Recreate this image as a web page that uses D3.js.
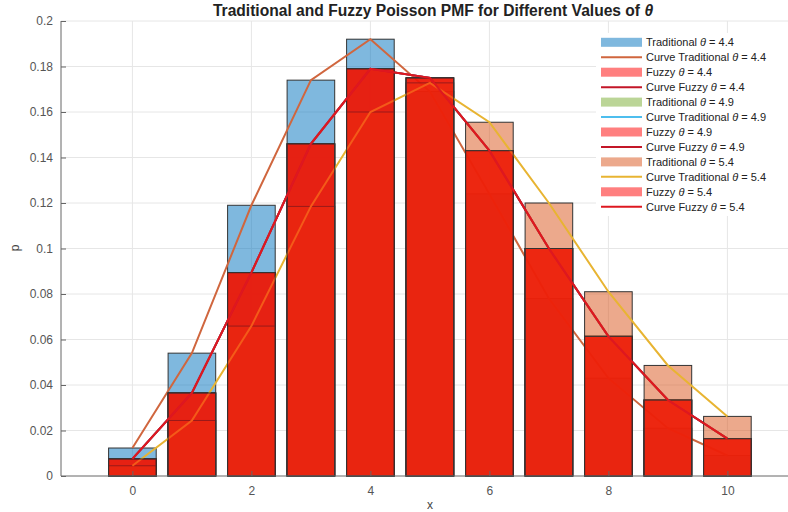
<!DOCTYPE html>
<html>
<head>
<meta charset="utf-8">
<script src="https://cdn.jsdelivr.net/npm/d3@7"></script>
<style>
	body { margin: 0; background: #fff; }
	text { font-family: "Liberation Sans", Arial, Helvetica, sans-serif; }
</style>
</head>
<body>
<div id="chart"></div>
<script>
// values
const xs = [0, 1, 2, 3, 4, 5, 6, 7, 8, 9, 10];
const trad44  = [0.0123, 0.054, 0.119, 0.174, 0.192, 0.169, 0.124, 0.078, 0.043, 0.021, 0.009];
const fuzzy44 = [0.0075, 0.0365, 0.0894, 0.146, 0.179, 0.175, 0.143, 0.100, 0.0614, 0.0334, 0.0164];
const trad49  = [0.0075, 0.0365, 0.0894, 0.146, 0.179, 0.175, 0.143, 0.100, 0.0614, 0.0334, 0.0164];
const fuzzy49 = [0.0075, 0.0365, 0.0894, 0.146, 0.179, 0.175, 0.143, 0.100, 0.0614, 0.0334, 0.0164];
const trad54  = [0.0045, 0.0244, 0.0659, 0.1185, 0.160, 0.1728, 0.1555, 0.120, 0.081, 0.0486, 0.0262];
const fuzzy54 = [0.0075, 0.0365, 0.0894, 0.146, 0.179, 0.175, 0.143, 0.100, 0.0614, 0.0334, 0.0164];
const xTicks = [0, 2, 4, 6, 8, 10];
const yTicks = [0, 0.02, 0.04, 0.06, 0.08, 0.1, 0.12, 0.14, 0.16, 0.18, 0.2];

// drawn in the same order as the legend
var layers = [
	{type: "bar",  name: "Traditional", theta: "4.4", data: trad44,  color: "rgb(0,114,189)"},
	{type: "line", name: "Curve Traditional", theta: "4.4", data: trad44, color: "rgb(208,102,62)"},
	{type: "bar",  name: "Fuzzy", theta: "4.4", data: fuzzy44, color: "rgb(255,0,0)"},
	{type: "line", name: "Curve Fuzzy", theta: "4.4", data: fuzzy44, color: "rgb(195,22,40)"},
	{type: "bar",  name: "Traditional", theta: "4.9", data: trad49,  color: "rgb(119,172,48)"},
	{type: "line", name: "Curve Traditional", theta: "4.9", data: trad49, color: "rgb(77,190,238)"},
	{type: "bar",  name: "Fuzzy", theta: "4.9", data: fuzzy49, color: "rgb(255,0,0)"},
	{type: "line", name: "Curve Fuzzy", theta: "4.9", data: fuzzy49, color: "rgb(195,22,40)"},
	{type: "bar",  name: "Traditional", theta: "5.4", data: trad54,  color: "rgb(217,83,25)"},
	{type: "line", name: "Curve Traditional", theta: "5.4", data: trad54, color: "rgb(232,180,50)"},
	{type: "bar",  name: "Fuzzy", theta: "5.4", data: fuzzy54, color: "rgb(255,0,0)"},
	{type: "line", name: "Curve Fuzzy", theta: "5.4", data: fuzzy54, color: "rgb(222,24,32)"}
];

var width = 788, height = 512;
var plotLeft = 61, plotTop = 21, plotBottom = 476;

const svg = d3.select('#chart').append('svg')
	.attr('width', width)
	.attr('height', height);

var x = d3.scaleLinear().domain([-1.2, 11.2]).range([plotLeft, plotLeft + 12.4 * 59.5]);
var y = d3.scaleLinear().domain([0, 0.2]).range([plotBottom, plotTop]);
var barW = x(0.8) - x(0);

// grid
svg.append('g').selectAll('line')
	.data(yTicks.slice(1))
	.enter().append('line')
	.attr('x1', plotLeft).attr('x2', width)
	.attr('y1', d => y(d)).attr('y2', d => y(d))
	.attr('stroke', '#e6e6e6');
svg.append('g').selectAll('line')
	.data(xTicks)
	.enter().append('line')
	.attr('x1', d => x(d)).attr('x2', d => x(d))
	.attr('y1', plotTop).attr('y2', plotBottom)
	.attr('stroke', '#e6e6e6');

var line = d3.line()
	.x((d, i) => x(xs[i]))
	.y(d => y(d));

var plot = svg.append('g');
layers.forEach(function(l) {
	if (l.type == "bar") {
		plot.append('g').selectAll('rect')
			.data(l.data)
			.enter().append('rect')
			.attr('x', (d, i) => x(xs[i]) - barW / 2)
			.attr('y', d => y(d))
			.attr('width', barW)
			.attr('height', d => plotBottom - y(d))
			.attr('fill', l.color)
			.attr('fill-opacity', 0.5)
			.attr('stroke', '#333')
			.attr('stroke-width', 1);
	} else {
		plot.append('path')
			.datum(l.data)
			.attr('d', line)
			.attr('fill', 'none')
			.attr('stroke', l.color)
			.attr('stroke-width', 2);
	}
});

// axes
var yAxis = d3.axisLeft(y).tickValues(yTicks).tickSize(-5).tickPadding(8)
	.tickFormat(d => d3.format('~g')(+d.toFixed(2)));
var xAxis = d3.axisBottom(x).tickValues(xTicks).tickSize(-5).tickPadding(10);

var gy = svg.append('g').attr('transform', 'translate(' + plotLeft + ',0)').call(yAxis);
var gx = svg.append('g').attr('transform', 'translate(0,' + plotBottom + ')').call(xAxis);
gy.select('.domain').attr('d', 'M0,' + plotTop + 'V' + plotBottom);
gx.select('.domain').attr('d', 'M' + plotLeft + ',0H' + width);
[gx, gy].forEach(function(g) {
	g.selectAll('.domain').attr('stroke', '#666');
	g.selectAll('.tick line').attr('stroke', '#666');
	g.selectAll('.tick text').attr('fill', '#555').style('font-size', '12px')
		.style('font-family', '"Liberation Sans", Arial, sans-serif');
});

// title and labels
var title = svg.append('text')
	.attr('x', 433).attr('y', 16)
	.attr('text-anchor', 'middle')
	.style('font-size', '15.6px')
	.style('font-weight', 'bold')
	.attr('fill', '#222');
title.append('tspan').text('Traditional and Fuzzy Poisson PMF for Different Values of ');
title.append('tspan').style('font-style', 'italic').text('θ');

svg.append('text')
	.attr('x', 430).attr('y', 509)
	.attr('text-anchor', 'middle')
	.style('font-size', '12px')
	.attr('fill', '#444')
	.text('x');

svg.append('text')
	.attr('transform', 'translate(19,248) rotate(-90)')
	.attr('text-anchor', 'middle')
	.style('font-size', '12px')
	.attr('fill', '#444')
	.text('p');

// legend
var lg = svg.append('g');
lg.append('rect')
	.attr('x', 596).attr('y', 33)
	.attr('width', width - 596).attr('height', 183)
	.attr('fill', '#fff');

var rows = lg.selectAll('g.row')
	.data(layers)
	.enter().append('g')
	.attr('class', 'row')
	.attr('transform', (d, i) => 'translate(0,' + (42.3 + i * 14.95) + ')');

rows.filter(d => d.type == "bar").append('rect')
	.attr('x', 601).attr('y', -4.5)
	.attr('width', 41).attr('height', 9)
	.attr('fill', d => d.color)
	.attr('fill-opacity', 0.5);

rows.filter(d => d.type == "line").append('line')
	.attr('x1', 601).attr('x2', 642)
	.attr('stroke', d => d.color)
	.attr('stroke-width', 2);

var lt = rows.append('text')
	.attr('x', 646).attr('y', 4)
	.style('font-size', '11px')
	.attr('fill', '#222');
lt.append('tspan').text(d => d.name + ' ');
lt.append('tspan').style('font-style', 'italic').text('θ');
lt.append('tspan').text(d => ' = ' + d.theta);
</script>
</body>
</html>
